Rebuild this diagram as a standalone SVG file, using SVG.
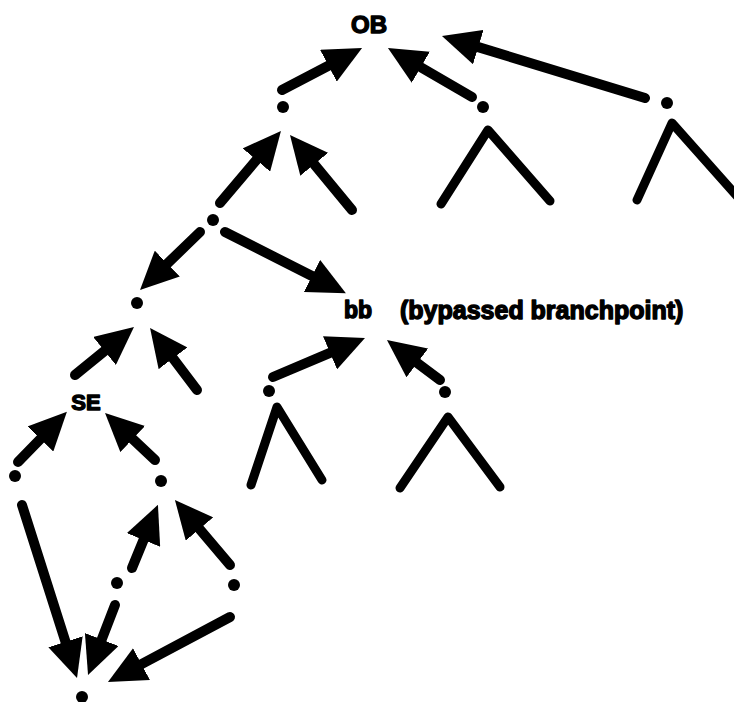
<svg xmlns="http://www.w3.org/2000/svg" width="734" height="702" viewBox="0 0 734 702">
<style>
.dot{fill:#000}
.edge{stroke:#000;stroke-width:10;stroke-linecap:round;fill:none}
.sub{stroke:#000;stroke-width:9;stroke-linecap:round;stroke-linejoin:round;fill:none}
.lbl{font-family:"Liberation Sans",Arial,sans-serif;font-weight:bold;fill:#000;stroke:#000;stroke-width:1.4;stroke-linejoin:round}
</style>
<defs>
<marker id="ah" markerUnits="userSpaceOnUse" viewBox="0 0 38 36" markerWidth="38" markerHeight="36" refX="0" refY="18" orient="auto">
<path d="M0,0 L38,18 L0,36 z" fill="#000"/>
</marker>
</defs>
<rect width="734" height="702" fill="#fff"/>
<g id="connectors">
<line class="edge" x1="282" y1="90" x2="328.4" y2="65.7" marker-end="url(#ah)"/>
<line class="edge" x1="472" y1="97" x2="420.8" y2="67.2" marker-end="url(#ah)"/>
<line class="edge" x1="645" y1="98" x2="478.3" y2="47.1" marker-end="url(#ah)"/>
<line class="edge" x1="200" y1="232" x2="167.3" y2="263.6" marker-end="url(#ah)"/>
<line class="edge" x1="225" y1="232" x2="312" y2="276" marker-end="url(#ah)"/>
<line class="edge" x1="220" y1="203" x2="256.4" y2="160" marker-end="url(#ah)"/>
<line class="edge" x1="352" y1="210" x2="314.2" y2="164.3" marker-end="url(#ah)"/>
<line class="edge" x1="197" y1="390" x2="173" y2="358.3" marker-end="url(#ah)"/>
<line class="edge" x1="75" y1="375" x2="104.5" y2="351" marker-end="url(#ah)"/>
<line class="edge" x1="18" y1="462" x2="40.4" y2="439" marker-end="url(#ah)"/>
<line class="edge" x1="155" y1="460" x2="132.7" y2="439" marker-end="url(#ah)"/>
<line class="edge" x1="132" y1="568" x2="143.5" y2="540" marker-end="url(#ah)"/>
<line class="edge" x1="230" y1="565" x2="199.5" y2="529" marker-end="url(#ah)"/>
<line class="edge" x1="22" y1="505" x2="65.5" y2="641.8" marker-end="url(#ah)"/>
<line class="edge" x1="115" y1="605" x2="101.7" y2="639.5" marker-end="url(#ah)"/>
<line class="edge" x1="230" y1="617" x2="141.5" y2="664.1" marker-end="url(#ah)"/>
<line class="edge" x1="273" y1="377" x2="330" y2="352.8" marker-end="url(#ah)"/>
<line class="edge" x1="440" y1="380" x2="417.3" y2="362.9" marker-end="url(#ah)"/>
</g>
<g id="OB"><text class="lbl" x="369" y="33" font-size="24" text-anchor="middle">OB</text></g>
<g id="bb"><text class="lbl" x="344" y="318" font-size="23">bb</text></g>
<g id="bb-note"><text class="lbl" x="400" y="319" font-size="25">(bypassed branchpoint)</text></g>
<g id="SE"><text class="lbl" x="86" y="410" font-size="22" text-anchor="middle">SE</text></g>
<g id="n1"><circle class="dot" cx="283" cy="107" r="6"/></g>
<g id="n2"><circle class="dot" cx="483" cy="107" r="6"/></g>
<g id="n3"><circle class="dot" cx="667" cy="103" r="6"/></g>
<g id="n4"><circle class="dot" cx="213" cy="220" r="6"/></g>
<g id="n5"><circle class="dot" cx="137" cy="303" r="6"/></g>
<g id="n6"><circle class="dot" cx="269" cy="391" r="6"/></g>
<g id="n7"><circle class="dot" cx="445" cy="392" r="6"/></g>
<g id="n8"><circle class="dot" cx="15" cy="476" r="6"/></g>
<g id="n9"><circle class="dot" cx="161" cy="481" r="6"/></g>
<g id="n10"><circle class="dot" cx="117" cy="583" r="6"/></g>
<g id="n11"><circle class="dot" cx="234" cy="585" r="6"/></g>
<g id="n12"><circle class="dot" cx="82" cy="697" r="6"/></g>
<g id="sub1"><polyline class="sub" points="441,204 488,130 550,201"/></g>
<g id="sub2"><polyline class="sub" points="637,200 672,123 745,205"/></g>
<g id="sub3"><polyline class="sub" points="251,485 277,407 322,480"/></g>
<g id="sub4"><polyline class="sub" points="400,488 448,417 500,487"/></g>
</svg>
